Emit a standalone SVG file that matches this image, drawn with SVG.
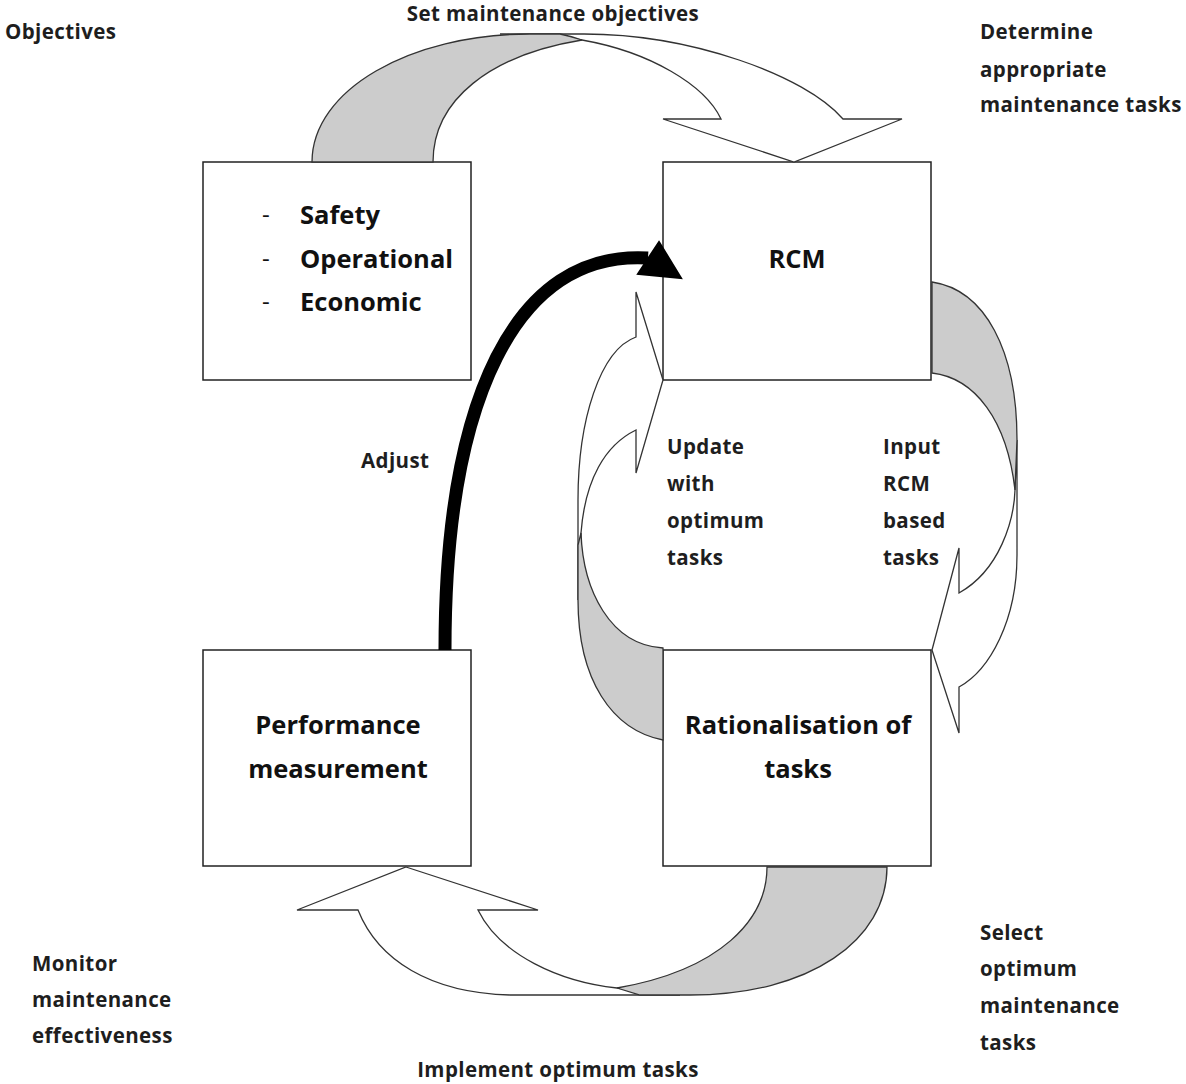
<svg xmlns="http://www.w3.org/2000/svg" width="1186" height="1084" viewBox="0 0 1186 1084">
<style>
.box{fill:#fff;stroke:#222;stroke-width:1.5}
.rib{fill:#fff;stroke:#333;stroke-width:1.3;stroke-linejoin:miter}
.gry{fill:#cccccc;stroke:#333;stroke-width:1.3}
.lbl{font-family:"Open Sans","DejaVu Sans",sans-serif;font-weight:700;font-size:20.5px;letter-spacing:0.4px;fill:#1e1e1e}
.bt{font-family:"Open Sans","DejaVu Sans",sans-serif;font-weight:700;font-size:25.5px;fill:#111}
.dash{font-family:"Open Sans","DejaVu Sans",sans-serif;font-weight:400;font-size:24px;fill:#111}
.mid{text-anchor:middle}
</style>
<rect width="1186" height="1084" fill="#fff"/>
<g id="labels">
<text class="lbl" x="5" y="39">Objectives</text>
<text class="lbl mid" x="553" y="21">Set maintenance objectives</text>
<text class="lbl" x="980" y="39">Determine</text>
<text class="lbl" x="980" y="77">appropriate</text>
<text class="lbl" x="980" y="112">maintenance tasks</text>
<text class="lbl" x="361" y="468">Adjust</text>
<text class="lbl" x="667" y="454">Update</text>
<text class="lbl" x="667" y="491">with</text>
<text class="lbl" x="667" y="528">optimum</text>
<text class="lbl" x="667" y="565">tasks</text>
<text class="lbl" x="883" y="454">Input</text>
<text class="lbl" x="883" y="491">RCM</text>
<text class="lbl" x="883" y="528">based</text>
<text class="lbl" x="883" y="565">tasks</text>
<text class="lbl" x="32" y="971">Monitor</text>
<text class="lbl" x="32" y="1007">maintenance</text>
<text class="lbl" x="32" y="1043">effectiveness</text>
<text class="lbl mid" x="558" y="1077">Implement optimum tasks</text>
<text class="lbl" x="980" y="940">Select</text>
<text class="lbl" x="980" y="976">optimum</text>
<text class="lbl" x="980" y="1013">maintenance</text>
<text class="lbl" x="980" y="1050">tasks</text>
</g>
<g id="node-objectives">
<rect class="box" x="203" y="162" width="268" height="218"/>
<text class="dash" x="262" y="223">-</text>
<text class="bt" x="300" y="224">Safety</text>
<text class="dash" x="262" y="267">-</text>
<text class="bt" x="300" y="268">Operational</text>
<text class="dash" x="262" y="310">-</text>
<text class="bt" x="300" y="311">Economic</text>
</g>
<g id="node-rcm">
<rect class="box" x="663" y="162" width="268" height="218"/>
<text class="bt mid" x="797" y="268">RCM</text>
</g>
<g id="node-performance">
<rect class="box" x="203" y="650" width="268" height="216"/>
<text class="bt mid" x="338" y="734">Performance</text>
<text class="bt mid" x="338" y="778">measurement</text>
</g>
<g id="node-rationalisation">
<rect class="box" x="663" y="650" width="268" height="216"/>
<text class="bt mid" x="798" y="734">Rationalisation of</text>
<text class="bt mid" x="798" y="778">tasks</text>
</g>
<g id="connectors">
<path class="rib" d="M500,34 L584,34 C690,34 805,75 843,119 L902,119 L794,162 L663,119 L721,119 C705,85 650,52 582,40 C560,36 530,34 500,34 Z"/>
<path class="gry" d="M312,162 C312,90 410,34 530,34 L560,34 C570,36 576,38 582,40 C490,55 433,100 433,162 Z"/>
<path class="rib" d="M1017,440 L1017,555 C1017,620 990,670 959,687 L959,733 L932,650 L959,548 L959,593 C1000,570 1014,520 1015,490 Z"/>
<path class="gry" d="M932,282 C985,290 1017,350 1017,440 L1015,490 C1007,420 975,378 932,373 Z"/>
<path class="rib" d="M578,600 L578,500 C578,420 600,350 636,337 L636,292 L663,380 L636,473 L636,430 C605,445 585,480 581,533 Z"/>
<path class="gry" d="M581,533 C583,590 610,645 663,648 L663,740 C612,730 578,680 578,600 L578,545 Z"/>
<path class="rib" d="M406,867 L538,910 L478,910 C500,955 560,982 617,988 L680,995 L510,995 C430,993 378,960 358,910 L297,910 Z"/>
<path class="gry" d="M767,867 L887,867 C887,940 810,995 690,995 L640,995 L617,988 C720,970 767,920 767,867 Z"/>
<path d="M445,650 C445,400 515,250 648,258" fill="none" stroke="#000" stroke-width="13"/>
<polygon points="659,242 681,278 638,274" fill="#000" stroke="#000" stroke-width="2" stroke-linejoin="miter"/>
</g>
</svg>
